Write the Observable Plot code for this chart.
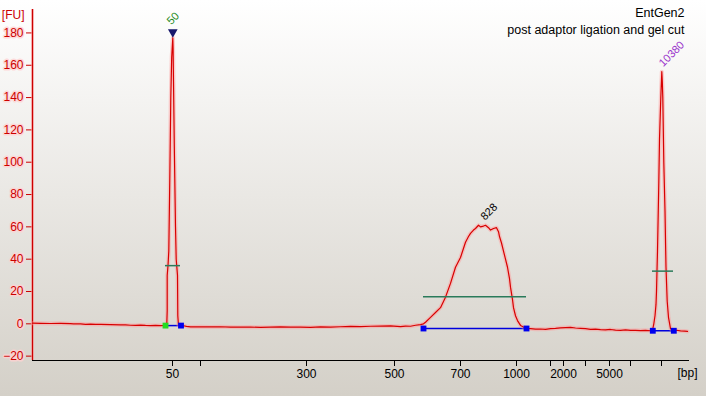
<!DOCTYPE html>
<html><head><meta charset="utf-8">
<script src="https://cdn.jsdelivr.net/npm/d3@7"></script>
<script src="https://cdn.jsdelivr.net/npm/@observablehq/plot@0.6"></script>
<style>
html,body{margin:0;padding:0;}
body{width:706px;height:396px;overflow:hidden;background:linear-gradient(#ffffff,#d4d0c8);}
</style></head><body><div id="chart"></div>
<script>
// migration position (x) and fluorescence (FU)
const traceX = [32,40,50,60,70,73,80,85,90,95,100,110,120,125,130,135,140,145,150,155,160,164,165.5,166.3,166.7,166.7,167.5,168.3,169.3,170.3,171.2,172.3,172.6,173,173.8,175,175.7,177,177.3,178,180,183,186,190,200,210,220,230,240,250,260,270,280,290,300,310,320,330,340,350,360,370,380,390,400,405,410,415,420,423,425,430,435,440,445,450,455,460,465,468,470,473,475,478,480,483,485,488,490,493,496,498,499,501,503,505,507,509,510,512,513,515,517,520,523,526,530,535,540,545,550,555,560,565,570,575,580,585,590,595,600,605,610,615,620,625,630,635,640,645,650,652,653.3,654.5,655.5,656,656.5,657,658.3,659,660.3,661.3,661.8,662.3,663.3,664.5,665.2,665.5,666.7,668,670,673,676,680,684,687];
const traceFU = [0.4,0.3,0.2,0.3,0.1,0,0,-0.3,-0.2,-0.4,-0.4,-0.5,-0.6,-0.7,-0.9,-1,-0.8,-1,-1.1,-1,-1.1,-1,-0.8,0,8,30,36,45,90,140,165,177,170,150,110,60,40,30,5,-1,-1.4,-1.2,-1.6,-1.9,-1.8,-1.9,-1.8,-2,-2.1,-2,-2.2,-2.1,-1.9,-2.1,-2,-2.2,-1.9,-2,-1.8,-1.6,-1.7,-1.5,-1.4,-1.3,-1.7,-1.4,-1.5,-0.9,-0.5,0,1,4,7,10,16.5,25,35,41,50.5,54,56,58,59,61,60,60.5,61,59.5,58,59,59.5,57,54,50,45,40,35,28,22.7,15,10,5,2,-1,-2,-2.8,-3,-3.3,-3.2,-3.4,-3,-2.8,-2.5,-2.3,-2.2,-2.6,-2.8,-3,-3.4,-3.3,-3.6,-3.8,-3.5,-3.9,-4,-3.8,-4.1,-4,-4.2,-4,-4.3,-4.1,0,5,12,20,33,45,87,114,140,156,150,140,100,70,45,35,14,4,-3,-4.3,-4,-4.4,-4.5,-4.7];

const yTicks = [-20,0,20,40,60,80,100,120,140,160,180];
const xTickPos = [172,200,306,394,460,516,550,563,585,609,630,661];
const xTickLabels = ["50","","300","500","700","1000","","2000","","5000","",""];

const peakNames = ["50","828","10380"];
const peakApexX = [172.3,485,661.3];
const peakApexFU = [177,61,156];
const peakStartX = [165,423,652.3];
const peakEndX = [180.5,526,673.3];
const peakBaseFU = [-1.1,-2.9,-4.3];
const peakHalfFU = [36,16.7,32.6];
const peakHalfStartX = [165,423,652];
const peakHalfEndX = [180,526,673];

const titleLines = ["EntGen2","post adaptor ligation and gel cut"];
const yUnit = "[FU]";
const xUnit = "[bp]";

const trace = traceX.map((x,i)=>({x, y: traceFU[i]}));
const peaks = peakNames.map((name,i)=>({name, ax: peakApexX[i], ay: peakApexFU[i], s: peakStartX[i], e: peakEndX[i], b: peakBaseFU[i], h: peakHalfFU[i], hs: peakHalfStartX[i], he: peakHalfEndX[i]}));
const squares = [];
peaks.forEach((p,i)=>{ squares.push({x:p.s, y:p.b, c: i===0 ? "#22dd22" : "#0000ee"}); squares.push({x:p.e, y:p.b, c:"#0000ee"}); });
const tickLabel = new Map(xTickPos.map((p,i)=>[p, xTickLabels[i]]));

const yMin = -22.7, yMax = 194.5;

const chart = Plot.plot({
  width: 706, height: 396,
  marginLeft: 32, marginRight: 17, marginTop: 9, marginBottom: 36,
  style: {background: "transparent", fontFamily: "Liberation Sans, Arial, sans-serif", fontSize: "12px"},
  x: {domain: [32, 689], axis: null},
  y: {domain: [yMin, yMax], axis: null},
  marks: [
    Plot.ruleY([yMin], {stroke: "#000", strokeWidth: 1.2}),
    Plot.axisX({ticks: xTickPos, tickFormat: d => tickLabel.get(d), tickSize: 6, tickPadding: 3, stroke: "#000", fill: "#000", fontSize: 12}),
    Plot.axisY({ticks: yTicks, tickSize: 6, tickPadding: 3, stroke: "#cc0000", fill: "#cc0000", textStroke: "#ffd2d2", textStrokeWidth: 3, textStrokeOpacity: 0.8, fontSize: 12}),
    Plot.ruleX([32], {stroke: "#ffb3b3", strokeWidth: 3, strokeOpacity: 0.6}),
    Plot.ruleX([32], {stroke: "#cc0000", strokeWidth: 1.3}),
    Plot.ruleY(peaks, {y: "b", x1: "s", x2: "e", stroke: "#0000dd", strokeWidth: 1.5}),
    Plot.line(trace, {x: "x", y: "y", stroke: "#ff9a9a", strokeWidth: 4, strokeOpacity: 0.45}),
    Plot.line(trace, {x: "x", y: "y", stroke: "#d80000", strokeWidth: 1.2}),
    Plot.ruleY(peaks, {y: "h", x1: "hs", x2: "he", stroke: "#2a7a5a", strokeWidth: 1.5}),
    Plot.dot(squares, {x: "x", y: "y", symbol: "square", r: 3.3, fill: "c", stroke: null}),
    Plot.dot([peaks[0]], {x: "ax", y: 180.5, symbol: "triangle", rotate: 180, r: 3.6, fill: "#17176b"}),
    Plot.text([peaks[0]], {x: "ax", y: "ay", text: "name", rotate: -45, textAnchor: "start", dx: -4, dy: -15, fill: "#1f8a1f", fontSize: 11}),
    Plot.text([peaks[1]], {x: "ax", y: "ay", text: "name", rotate: -45, textAnchor: "start", dx: -3, dy: -7, fill: "#000", fontSize: 11}),
    Plot.text([peaks[2]], {x: "ax", y: "ay", text: "name", rotate: -45, textAnchor: "start", dx: -1, dy: -7, fill: "#9933cc", fontSize: 11}),
    Plot.text([titleLines[0]], {frameAnchor: "top-right", text: d => d, textAnchor: "end", dx: -5, dy: -1, fill: "#000", fontSize: 12.5}),
    Plot.text([titleLines[1]], {frameAnchor: "top-right", text: d => d, textAnchor: "end", dx: -5, dy: 16, fill: "#000", fontSize: 12.5}),
    Plot.text([yUnit], {frameAnchor: "top-left", text: d => d, textAnchor: "end", dx: -8, dy: 1, fill: "#cc0000", fontSize: 12}),
    Plot.text([xUnit], {frameAnchor: "bottom-right", text: d => d, textAnchor: "start", dx: -12, dy: 16, fill: "#000", fontSize: 12})
  ]
});
document.getElementById("chart").appendChild(chart);
</script></body></html>
